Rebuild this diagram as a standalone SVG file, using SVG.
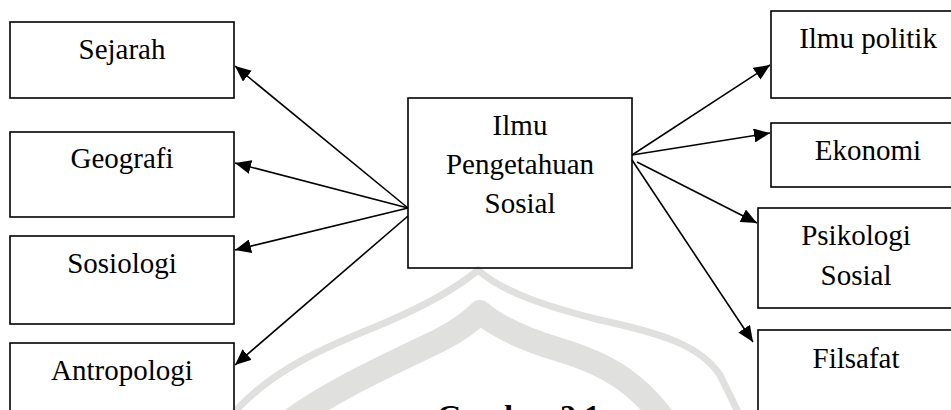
<svg xmlns="http://www.w3.org/2000/svg" width="951" height="410" viewBox="0 0 951 410">
<style>
.box{fill:none;stroke:#000;stroke-width:1.6}
.lbl{font-size:29px;fill:#000;text-anchor:middle}
.cap{font-size:32px;font-weight:bold;fill:#000}
.con{stroke:#000;stroke-width:1.6;fill:none;marker-end:url(#arr)}
.wm{fill:none;stroke:#e0e0de;stroke-linecap:round;stroke-linejoin:round}
</style>
<defs>
<marker id="arr" markerUnits="userSpaceOnUse" markerWidth="17" markerHeight="14" refX="16" refY="7" orient="auto">
<path d="M0,0 L16,7 L0,14 z" fill="#000"/>
</marker>
</defs>
<rect width="951" height="410" fill="#fff"/>
<g id="watermark">
<path class="wm" stroke-width="7" d="M232,415 C270,370 330,345 380,325 C420,308 455,290 478,270 C500,290 540,305 600,320 C660,333 700,345 720,375 L738,412"/>
<path class="wm" stroke-width="24" d="M285,425 C330,390 400,360 440,340 C460,330 472,320 480,312 C495,325 520,338 560,350 C610,365 640,385 668,425"/>
</g>
<g id="connectors">
<line class="con" x1="408" y1="208" x2="235" y2="66"/>
<line class="con" x1="408" y1="208" x2="235" y2="163"/>
<line class="con" x1="408" y1="208" x2="235" y2="250"/>
<line class="con" x1="408" y1="216" x2="235" y2="365"/>
<line class="con" x1="632" y1="155" x2="770" y2="65"/>
<line class="con" x1="632" y1="155" x2="770" y2="133"/>
<line class="con" x1="637" y1="162" x2="757" y2="223"/>
<line class="con" x1="632" y1="160" x2="753" y2="342"/>
</g>
<g font-family="Liberation Serif, serif">
<g id="n-center">
<rect class="box" x="408" y="98" width="224" height="170"/>
<text class="lbl" x="520" y="135">Ilmu</text>
<text class="lbl" x="520" y="174">Pengetahuan</text>
<text class="lbl" x="520" y="213">Sosial</text>
</g>
<g id="n-sejarah">
<rect class="box" x="10" y="22" width="224" height="76"/>
<text class="lbl" x="122" y="59">Sejarah</text>
</g>
<g id="n-geografi">
<rect class="box" x="10" y="132" width="224" height="85"/>
<text class="lbl" x="122" y="168">Geografi</text>
</g>
<g id="n-sosiologi">
<rect class="box" x="10" y="236" width="224" height="88"/>
<text class="lbl" x="122" y="273">Sosiologi</text>
</g>
<g id="n-antropologi">
<rect class="box" x="10" y="343" width="224" height="90"/>
<text class="lbl" x="122" y="380">Antropologi</text>
</g>
<g id="n-politik">
<rect class="box" x="771" y="11" width="194" height="87"/>
<text class="lbl" x="868" y="48">Ilmu politik</text>
</g>
<g id="n-ekonomi">
<rect class="box" x="771" y="123" width="194" height="64"/>
<text class="lbl" x="868" y="160">Ekonomi</text>
</g>
<g id="n-psikologi">
<rect class="box" x="758" y="208" width="198" height="100"/>
<text class="lbl" x="856" y="245">Psikologi</text>
<text class="lbl" x="856" y="285">Sosial</text>
</g>
<g id="n-filsafat">
<rect class="box" x="758" y="330" width="198" height="100"/>
<text class="lbl" x="856" y="368">Filsafat</text>
</g>
<text class="cap" x="437" y="427">Gambar 2.1</text>
</g>
</svg>
